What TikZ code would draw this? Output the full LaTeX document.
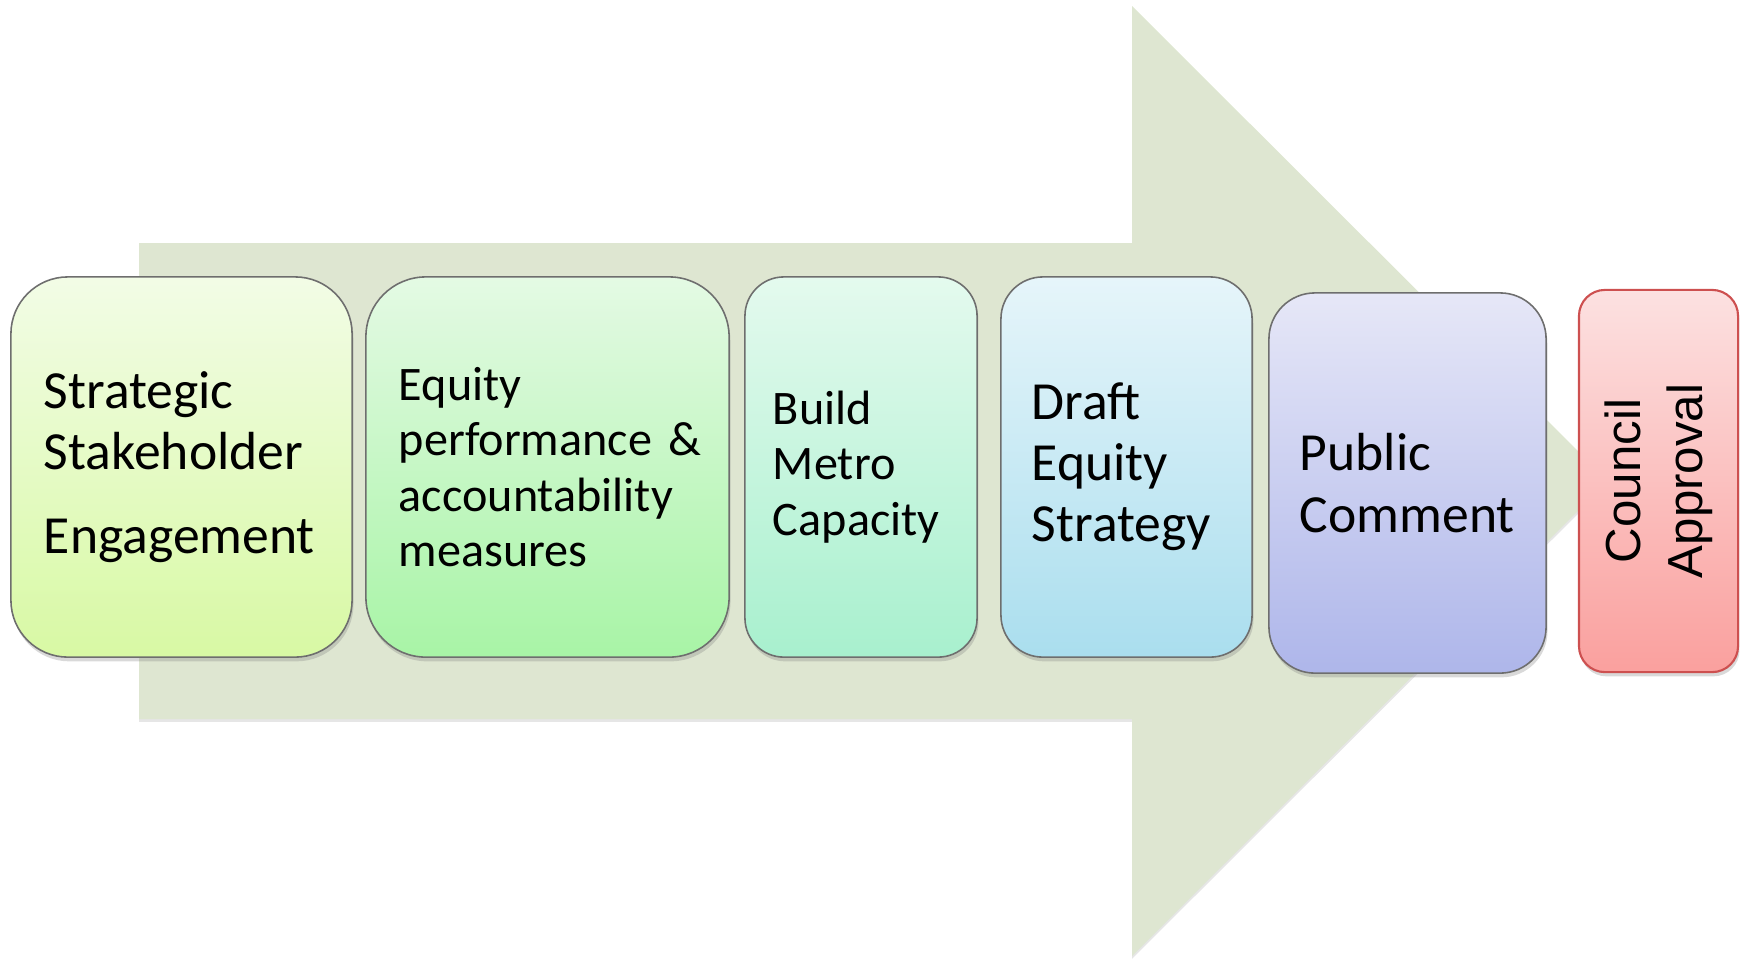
\documentclass[tikz,border=0pt]{standalone}
\usepackage{fontspec}
\setmainfont{Carlito}
\newfontfamily\arialfont{Liberation Sans}
\definecolor{arrowsage}{RGB}{222, 230, 209}
\definecolor{edgegray}{RGB}{110, 110, 110}
\definecolor{councilred}{RGB}{205, 80, 80}
\definecolor{limetop}{RGB}{242, 252, 230}
\definecolor{limebot}{RGB}{216, 249, 164}
\definecolor{greentop}{RGB}{228, 250, 228}
\definecolor{greenbot}{RGB}{168, 244, 166}
\definecolor{minttop}{RGB}{228, 250, 238}
\definecolor{mintbot}{RGB}{168, 240, 206}
\definecolor{skytop}{RGB}{230, 245, 250}
\definecolor{skybot}{RGB}{170, 222, 238}
\definecolor{lilactop}{RGB}{230, 231, 247}
\definecolor{lilacbot}{RGB}{174, 182, 234}
\definecolor{rosetop}{RGB}{252, 225, 225}
\definecolor{rosebot}{RGB}{250, 160, 158}
\usetikzlibrary{shadows}

\begin{document}
\begin{tikzpicture}[x=0.01cm, y=-0.01cm,
  stepbox/.style={draw=edgegray, line width=0.45pt, minimum height=3.8cm, inner xsep=0.33cm, inner ysep=0pt, align=left,
    font=\fontsize{15.25}{17.4}\selectfont, drop shadow={shadow xshift=0.4pt, shadow yshift=-1.2pt, opacity=0.3}},
  smallstep/.style={font=\fontsize{13.7}{15.8}\selectfont}
]
  \useasboundingbox (0,0) rectangle (1746,959);
  \path[fill=arrowsage, drop shadow={shadow xshift=0pt, shadow yshift=-0.8pt, opacity=0.2}]
    (139,243) -- (1132,243) -- (1132,6) -- (1608,481) -- (1132,956) -- (1132,719) -- (139,719) -- cycle;

  \node[stepbox, rounded corners=0.57cm, minimum width=3.41cm, text width=2.75cm, top color=limetop, bottom color=limebot]
    (engage) at (181.5,467) {Strategic\\Stakeholder\\[6.5pt]Engagement};
  \node[stepbox, smallstep, rounded corners=0.6cm, minimum width=3.63cm, text width=2.97cm, top color=greentop, bottom color=greenbot]
    (measures) at (547.5,467) {Equity\\\mbox{performance \&}\\accountability\\measures};
  \node[stepbox, smallstep, rounded corners=0.39cm, inner xsep=0.28cm, minimum width=2.32cm, text width=1.76cm, top color=minttop, bottom color=mintbot]
    (capacity) at (861,467) {Build\\Metro\\Capacity};
  \node[stepbox, inner xsep=0.31cm, rounded corners=0.42cm, minimum width=2.51cm, text width=1.89cm, top color=skytop, bottom color=skybot]
    (draft) at (1126.5,467) {Draft\\Equity\\Strategy};
  \node[stepbox, inner xsep=0.31cm, rounded corners=0.46cm, minimum width=2.77cm, text width=2.15cm, top color=lilactop, bottom color=lilacbot]
    (comment) at (1407.5,483) {Public\\Comment};
  \node[stepbox, draw=councilred, line width=0.6pt, rounded corners=0.26cm, minimum width=1.59cm, minimum height=3.82cm,
    inner xsep=0pt, align=center, top color=rosetop, bottom color=rosebot]
    (council) at (1658.5,481) {\rotatebox{90}{\parbox{3.2cm}{\centering\arialfont\fontsize{14}{17.6}\selectfont Council\\Approval}}};
\end{tikzpicture}
\end{document}
